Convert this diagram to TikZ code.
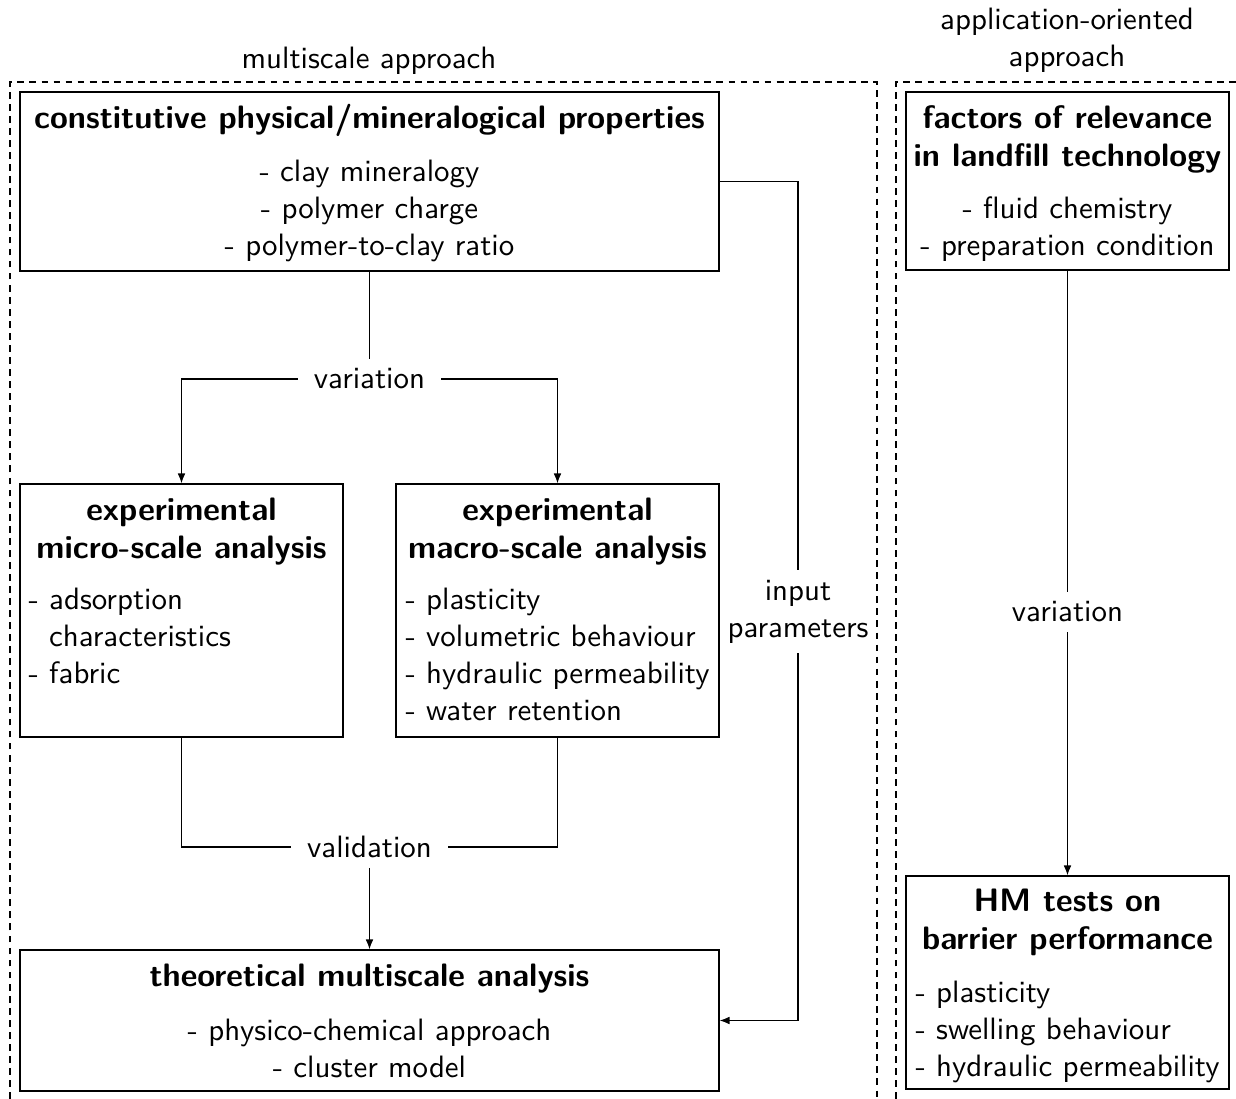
\documentclass[tikz,border=0pt]{standalone}
\usetikzlibrary{fit,arrows.meta}
\begin{document}
\begin{tikzpicture}[x=0.3236pt,y=-0.3236pt,font=\sffamily,
  box/.style={draw,inner sep=0pt},
  txt/.style={inner sep=0pt,anchor=north,align=center},
  lst/.style={inner sep=0pt,anchor=north west,align=left},
  head/.style={txt,font=\sffamily\fontsize{10.5}{12.3}\bfseries},
  lbl/.style={inner xsep=5pt,inner ysep=3pt},
  frame/.style={dash pattern=on 2.2pt off 1.7pt},
  >={Latex[length=3.2pt,width=2.5pt]}]
  \useasboundingbox (0,0) rectangle (1236,1099);
  % approach frames
  \draw[frame] (10,1099) -- (10,82) -- (877,82) -- (877,1099);
  \draw[frame] (896,1099) -- (896,82) -- (1236,82);
  \node[txt] (tmulti) at (369,46) {multiscale approach};
  \node[txt] (tappl) at (1067,7.5) {application-oriented\\approach};

  % multiscale approach
  \node[box,fit={(20,92) (719,271)}] (cons) {};
  \node[head] (consh) at (369.5,104) {constitutive physical/mineralogical properties};
  \node[txt] (consl) at (369.5,159) {- clay mineralogy\\- polymer charge\\- polymer-to-clay ratio};

  \node[box,fit={(20,484) (343,737)}] (micro) {};
  \node[head] (microh) at (181.5,497.5) {experimental\\micro-scale analysis};
  \node[lst] (microl) at (28,587.5) {- adsorption\\\phantom{- }characteristics\\- fabric};

  \node[box,fit={(396,484) (719,737)}] (macro) {};
  \node[head] (macroh) at (557.5,497.5) {experimental\\macro-scale analysis};
  \node[lst] (macrol) at (405,587.5) {- plasticity\\- volumetric behaviour\\- hydraulic permeability\\- water retention};

  \node[box,fit={(20,950) (719,1091)}] (theory) {};
  \node[head] (theoryh) at (369.5,963) {theoretical multiscale analysis};
  \node[txt] (theoryl) at (369.5,1018) {- physico-chemical approach\\- cluster model};

  % application-oriented approach
  \node[box,fit={(906,92) (1229,270)}] (fac) {};
  \node[head] (fach) at (1067.5,105) {factors of relevance\\in landfill technology};
  \node[txt] (facl) at (1067.5,196.5) {- fluid chemistry\\- preparation condition};

  \node[box,fit={(906,876) (1229,1089)}] (hm) {};
  \node[head] (hmh) at (1067.5,888) {HM tests on\\barrier performance};
  \node[lst] (hml) at (915,980.5) {- plasticity\\- swelling behaviour\\- hydraulic permeability};

  % connectors
  \node[lbl] (var1) at (369.5,379) {variation};
  \node[lbl] (val) at (369.5,847) {validation};
  \node[lbl] (var2) at (1067.5,612) {variation};
  \node[lbl,align=center,anchor=north] (inp) at (798,570) {input\\parameters};

  \draw (cons.south) -- (var1.north);
  \draw[->] (var1.west) -| (micro.north);
  \draw[->] (var1.east) -| (macro.north);
  \draw (micro.south) |- (val.west);
  \draw (macro.south) |- (val.east);
  \draw[->] (val.south) -- (theory.north);
  \draw (cons.east) -| (inp.north);
  \draw[->] (inp.south) |- (theory.east);
  \draw (fac.south) -- (var2.north);
  \draw[->] (var2.south) -- (hm.north);
\end{tikzpicture}
\end{document}
